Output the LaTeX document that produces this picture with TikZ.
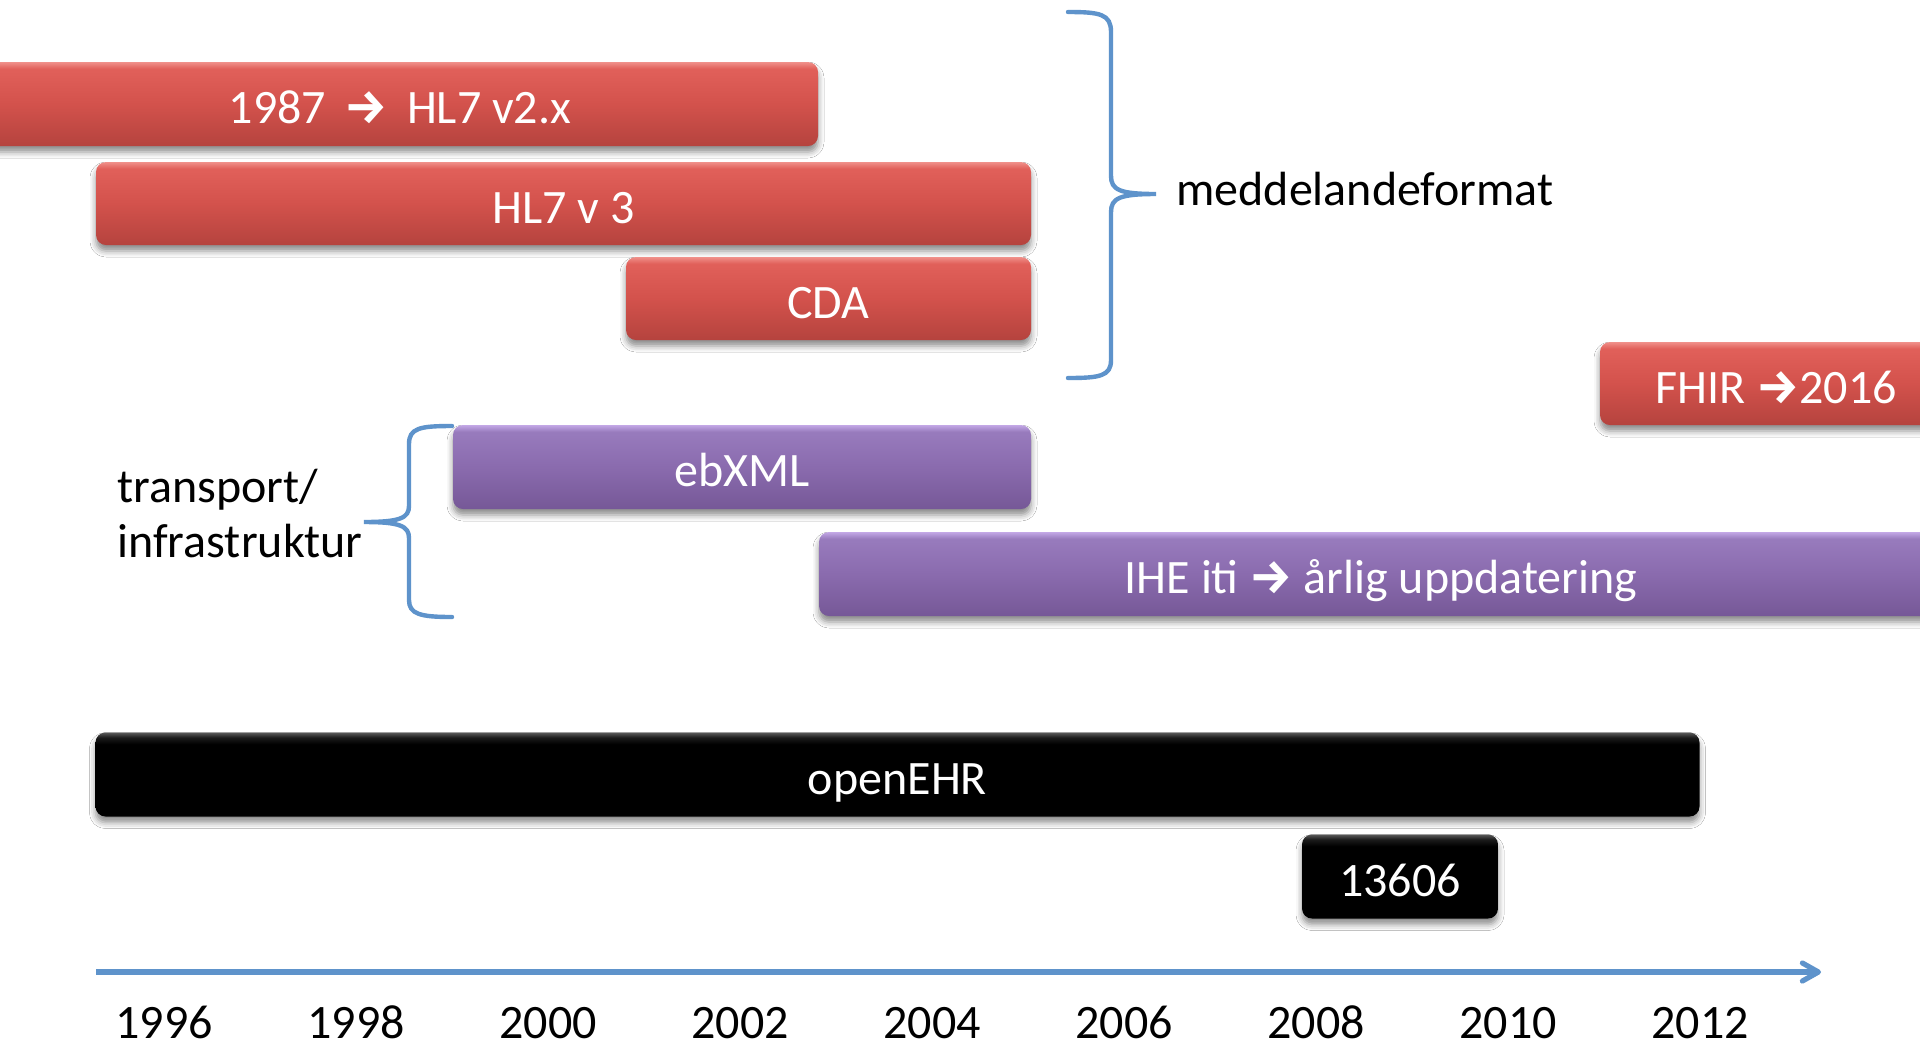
\documentclass[tikz,border=0pt]{standalone}
\usepackage{fontspec}
\setmainfont{Carlito}
\newfontfamily\arrowfont{Fira Sans}
\usetikzlibrary{shadows,shadows.blur,arrows.meta}
\definecolor{axisblue}{HTML}{5E93CB}
\definecolor{rA}{HTML}{B5433E}
\definecolor{rB}{HTML}{D3524C}
\definecolor{rC}{HTML}{E1605A}
\definecolor{rD}{HTML}{F0908A}
\definecolor{pA}{HTML}{765897}
\definecolor{pB}{HTML}{8A6BAE}
\definecolor{pC}{HTML}{987BBD}
\definecolor{pD}{HTML}{C3A8E6}
\definecolor{kA}{HTML}{000000}
\definecolor{kD}{HTML}{5A5A5A}
\pgfdeclareverticalshading{redshade}{100bp}{color(0bp)=(rA); color(25bp)=(rA); color(50bp)=(rB); color(71bp)=(rC); color(75bp)=(rD); color(100bp)=(rD)}
\pgfdeclareverticalshading{purpleshade}{100bp}{color(0bp)=(pA); color(25bp)=(pA); color(50bp)=(pB); color(71bp)=(pC); color(75bp)=(pD); color(100bp)=(pD)}
\pgfdeclareverticalshading{blackshade}{100bp}{color(0bp)=(kA); color(25bp)=(kA); color(68bp)=(kA); color(72bp)=(kA!70!kD); color(75bp)=(kD); color(100bp)=(kD)}
\newcommand\rarrowsym{{\arrowfont\bfseries →}}
\tikzset{
  bar/.style={rectangle, rounded corners=5pt, inner sep=0pt, text=white,
    font=\fontsize{24}{28}\selectfont, text height=21pt, text depth=1.5pt,
    blur shadow={shadow xshift=0pt, shadow yshift=-3pt, shadow blur radius=3pt, shadow opacity=45}},
  redbar/.style={bar, shading=redshade},
  purplebar/.style={bar, shading=purpleshade},
  blackbar/.style={bar, shading=blackshade},
  lbl/.style={inner sep=0pt, font=\fontsize{24}{28}\selectfont, text=black},
  bracestyle/.style={draw=axisblue, line width=2.2pt, line cap=round},
  axisline/.style={draw=axisblue, line width=2.6pt, -{Straight Barb[length=8pt,width=9pt,round]}}
}
\begin{document}
\begin{tikzpicture}[x=0.5pt,y=-0.5pt]
\useasboundingbox (0,0) rectangle (1920,1046);
\clip (0,0) rectangle (1920,1046);
\fill[white] (0,0) rectangle (1920,1046);

% bars
\node[redbar, minimum width=418pt, minimum height=42pt] (hl7v2) at (400,104) {1987 \,\rarrowsym\, HL7 v2.x};
\node[redbar, minimum width=467.5pt, minimum height=41.5pt] (hl7v3) at (563.5,203.5) {HL7 v 3};
\node[redbar, minimum width=202.5pt, minimum height=41.5pt] (cda) at (828.5,298.5) {CDA};
\node[redbar, minimum width=176pt, minimum height=41.5pt] (fhir) at (1776,383.5) {FHIR \rarrowsym2016};
\node[purplebar, minimum width=289pt, minimum height=42pt] (ebxml) at (742,467) {ebXML};
\node[purplebar, minimum width=562pt, minimum height=42pt] (ihe) at (1381,574) {IHE iti \rarrowsym\ årlig uppdatering};
\node[blackbar, minimum width=802pt, minimum height=42pt] (openehr) at (897.5,774.5) {openEHR};
\node[blackbar, minimum width=98pt, minimum height=42pt] (iso) at (1400,876.5) {13606};

% labels
\node[lbl, anchor=base west] (medd) at (1176,205) {meddelandeformat};
\node[lbl, anchor=base west] (trans) at (117,502) {transport/};
\node[lbl, anchor=base west] (infra) at (117,557) {infrastruktur};

% braces
\draw[bracestyle] (1068,12) .. controls (1100,12) and (1111,14) .. (1111,32)
  -- (1111,176) .. controls (1111,190) and (1120,194) .. (1156,194)
  .. controls (1120,194) and (1111,198) .. (1111,212)
  -- (1111,360) .. controls (1111,376) and (1100,378) .. (1068,378);
\draw[bracestyle] (452,426) .. controls (420,426) and (409,428) .. (409,444)
  -- (409,506) .. controls (409,518) and (400,522) .. (364,522)
  .. controls (400,522) and (409,526) .. (409,538)
  -- (409,600) .. controls (409,614) and (420,617) .. (452,617);

% axis
\coordinate (axstart) at (96,972);
\coordinate (axend) at (1821,972);
\draw[axisline] (axstart) -- (axend);

% years
\foreach \yr/\xx in {1996/164,1998/356,2000/548,2002/740,2004/932,2006/1124,2008/1316,2010/1508,2012/1700}{
  \node[lbl, anchor=base] (y\yr) at (\xx,1038) {\yr};
}
\end{tikzpicture}
\end{document}
